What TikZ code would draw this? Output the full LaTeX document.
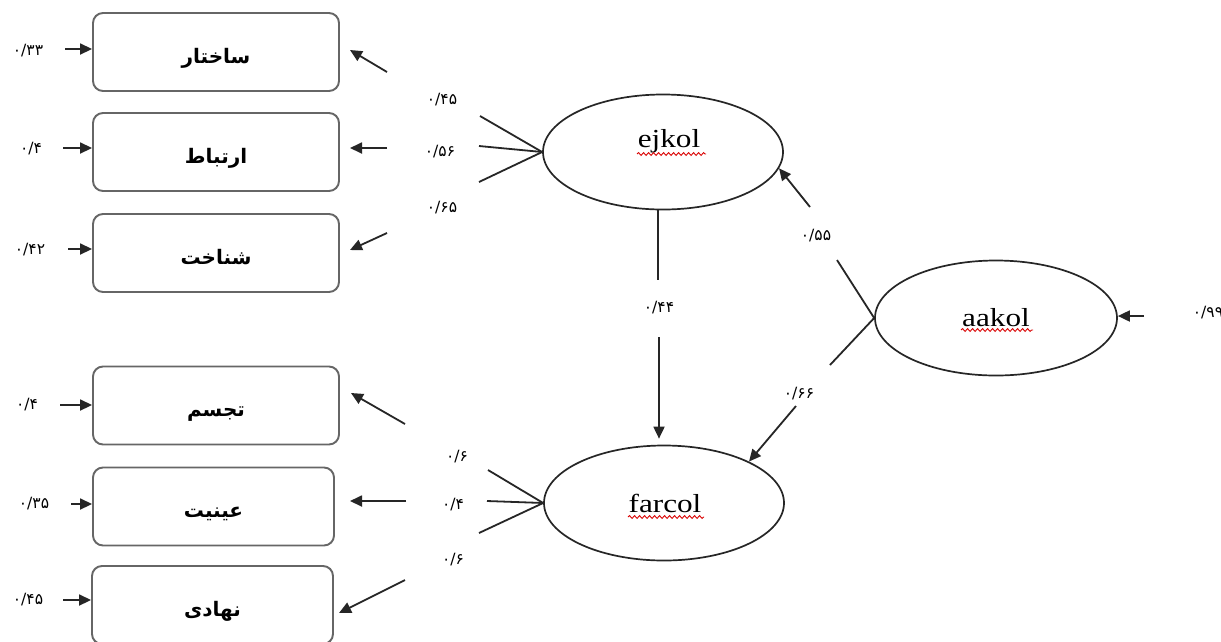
\documentclass[tikz,border=0pt]{standalone}
\usepackage{fontspec}
\setmainfont{Liberation Serif}
\newfontfamily\arabicfont[Script=Arabic]{DejaVu Sans}
\TeXXeTstate=1
\usetikzlibrary{shapes.geometric,arrows.meta,decorations.pathmorphing}
\newcommand{\fa}[1]{\raisebox{-11pt}[0pt][0pt]{\beginR #1\endR}}
\begin{document}
\begin{tikzpicture}[x=1pt,y=-1pt,
 box/.style={draw=black!60, line width=1.9pt, rounded corners=10pt, minimum width=246pt, minimum height=78pt, inner sep=0pt, font=\arabicfont\bfseries\fontsize{20}{24}\selectfont},
 lat/.style={draw=black!85, ellipse, line width=1.7pt, minimum width=240pt, minimum height=115pt, inner sep=0pt},
 lbl/.style={font=\fontsize{26}{28}\selectfont, inner sep=0pt, anchor=base},
 num/.style={font=\arabicfont\fontsize{15.5}{18}\selectfont, inner sep=0pt},
 ln/.style={line width=1.8pt, draw=black!85},
 arr/.style={ln, -{Triangle[length=12pt,width=11pt]}},
 wavy/.style={draw=red!85!black, line width=0.9pt, decorate, decoration={snake, amplitude=1.4pt, segment length=5pt}}
]
\useasboundingbox (0,0) rectangle (1221,641);
\fill[white] (0,0) rectangle (1221,641);

% boxes
\node[box] (b1) at (216,52) {\fa{ساختار}};
\node[box] (b2) at (216,152) {\fa{ارتباط}};
\node[box] (b3) at (216,253) {\fa{شناخت}};
\node[box] (b4) at (216,405.5) {\fa{تجسم}};
\node[box, minimum width=241pt] (b5) at (213.5,506.5) {\fa{عینیت}};
\node[box, minimum width=241pt] (b6) at (212.5,605) {\fa{نهادی}};

% latent variables
\node[lat] (ejkol) at (663,152) {};
\node[lbl] (ejkolt) at (669,147) {\scalebox{1.2}[1]{ejkol}};
\draw[wavy] (637,154) -- (706,154);
\node[lat] (farcol) at (664,503) {};
\node[lbl] (farcolt) at (665,512) {\scalebox{1.2}[1]{farcol}};
\draw[wavy] (628,517) -- (704,517);
\node[lat, minimum width=242pt] (aakol) at (996,318) {};
\node[lbl] (aakolt) at (996,326) {\scalebox{1.2}[1]{aakol}};
\draw[wavy] (961,330) -- (1033,330);

% left error arrows
\foreach \i/\x/\y in {1/65/49, 2/63/148, 3/68/249, 4/60/405, 5/71/504, 6/63/600}{
  \coordinate (l\i) at (\x,\y);
  \draw[arr] (l\i) -- (b\i.west |- l\i);
}
\node[num] (n1) at (28,51) {۰/۳۳};
\node[num] (n2) at (31,149) {۰/۴};
\node[num] (n3) at (30,250) {۰/۴۲};
\node[num] (n4) at (27,405) {۰/۴};
\node[num] (n5) at (34,504) {۰/۳۵};
\node[num] (n6) at (28,600) {۰/۴۵};

% ejkol indicators
\coordinate (e1) at (480,116);
\coordinate (e2) at (479,146);
\coordinate (e3) at (479,182);
\draw[ln] (e1) -- (ejkol.west);
\draw[ln] (e2) -- (ejkol.west);
\draw[ln] (e3) -- (ejkol.west);
\node[num] (ne1) at (442,100) {۰/۴۵};
\node[num] (ne2) at (440,152) {۰/۵۶};
\node[num] (ne3) at (442,208) {۰/۶۵};
\coordinate (r1) at (387,72);  \coordinate (s1) at (350,50);
\coordinate (r2) at (387,148); \coordinate (s2) at (350,148);
\coordinate (r3) at (387,233); \coordinate (s3) at (350,250);
\draw[arr] (r1) -- (s1);
\draw[arr] (r2) -- (s2);
\draw[arr] (r3) -- (s3);

% farcol indicators
\coordinate (f1) at (488,470);
\coordinate (f2) at (487,501);
\coordinate (f3) at (479,533);
\draw[ln] (f1) -- (farcol.west);
\draw[ln] (f2) -- (farcol.west);
\draw[ln] (f3) -- (farcol.west);
\node[num] (nf1) at (457,457) {۰/۶};
\node[num] (nf2) at (453,505) {۰/۴};
\node[num] (nf3) at (453,560) {۰/۶};
\coordinate (r4) at (405,424); \coordinate (s4) at (351,393);
\coordinate (r5) at (406,501); \coordinate (s5) at (350,501);
\coordinate (r6) at (405,580); \coordinate (s6) at (339,613);
\draw[arr] (r4) -- (s4);
\draw[arr] (r5) -- (s5);
\draw[arr] (r6) -- (s6);

% ejkol -> farcol
\coordinate (m1) at (658,280);
\coordinate (m2) at (659,337);
\draw[ln] (m1 |- ejkol.south) -- (m1);
\node[num] (n44) at (659,308) {۰/۴۴};
\draw[arr, shorten >=6pt] (m2) -- (m2 |- farcol.north);

% aakol paths
\coordinate (a1) at (837,260);
\coordinate (a2) at (810,207);
\draw[ln] (aakol.west) -- (a1);
\node[num] (n55) at (816,236) {۰/۵۵};
\draw[arr] (a2) -- (ejkol.-8);
\coordinate (a3) at (830,365);
\coordinate (a4) at (796,406);
\draw[ln] (aakol.west) -- (a3);
\node[num] (n66) at (799,394) {۰/۶۶};
\draw[arr] (a4) -- (farcol.26);
\coordinate (a5) at (1144,316);
\draw[arr] (a5) -- (aakol.east |- a5);
\node[num] (n99) at (1208,313) {۰/۹۹};
\end{tikzpicture}
\end{document}
